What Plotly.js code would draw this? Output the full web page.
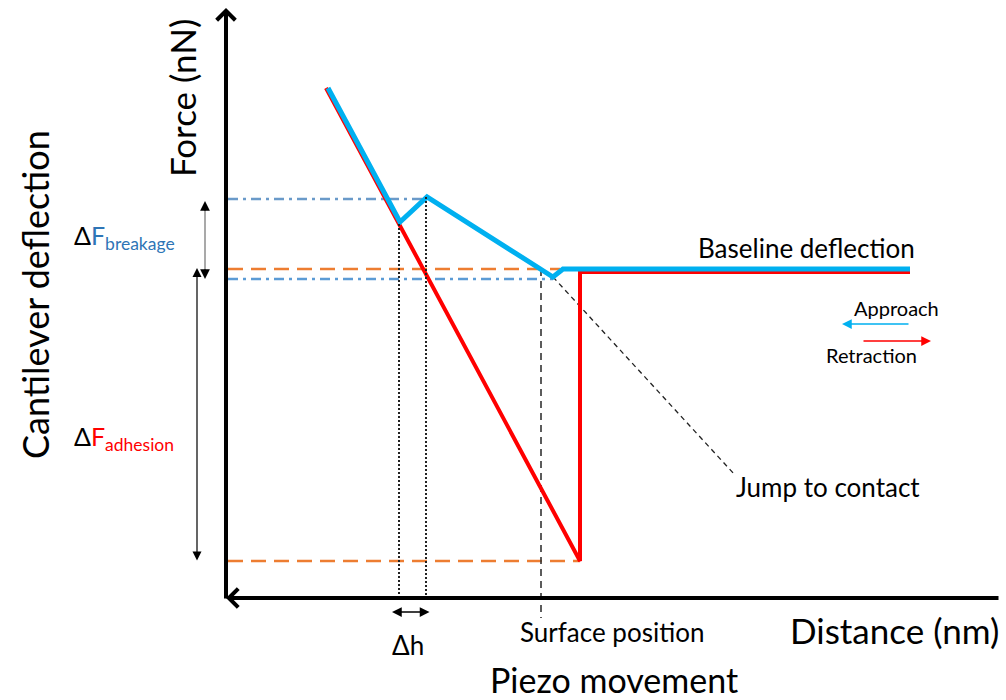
<!DOCTYPE html>
<html>
<head>
<meta charset="utf-8">
<script src="https://cdn.plot.ly/plotly-3.0.1.min.js"></script>
<style>html,body{margin:0;padding:0;background:#fff;}#chart{width:1006px;height:700px;}</style>
</head>
<body>
<div id="chart"></div>
<script>
// Schematic coordinates (in drawing units)
const retractionX = [326, 580, 580, 910];
const retractionY = [88, 561, 272, 272];
const approachX = [328, 400, 427, 541, 553, 563, 910];
const approachY = [88, 222, 197, 269, 277, 269, 269];

const baselineGuideX = [228, 560];
const baselineGuideY = [269, 269];
const adhesionGuideX = [228, 580];
const adhesionGuideY = [561, 561];
const breakTopGuideX = [228, 427];
const breakTopGuideY = [199, 199];
const breakLowGuideX = [228, 553];
const breakLowGuideY = [279, 279];
const dh1X = [399, 399];
const dh1Y = [224, 597];
const dh2X = [426, 426];
const dh2Y = [197, 597];
const surfaceX = [541, 541];
const surfaceY = [269, 618];
const jumpX = [553, 735];
const jumpY = [277, 475];

const FONT = 'Lato, "Open Sans", sans-serif';

function line(x, y, color, width, dash) {
  return {x: x, y: y, type: 'scatter', mode: 'lines', hoverinfo: 'skip',
    line: {color: color, width: width, dash: dash || 'solid'}};
}

const traces = [
  line(baselineGuideX, baselineGuideY, '#ED7D31', 2.5, '15px,8px'),
  line(adhesionGuideX, adhesionGuideY, '#ED7D31', 2.5, '15px,8px'),
  line(breakTopGuideX, breakTopGuideY, '#6A9AC9', 2.5, '10px,5px,3px,5px'),
  line(breakLowGuideX, breakLowGuideY, '#5B9BD5', 2.5, '10px,5px,3px,5px'),
  line(surfaceX, surfaceY, '#333333', 1.6, '7px,5px'),
  line(jumpX, jumpY, '#222222', 1.3, '5px,4px'),
  line(retractionX, retractionY, '#FF0000', 4),
  line(approachX, approachY, '#00B0F0', 5),
  line(dh1X, dh1Y, '#222222', 2, '2px,2px'),
  line(dh2X, dh2Y, '#222222', 2, '2px,2px'),
  line([205, 205], [208, 272], '#8C8C8C', 1.5)
];

function arrow(x, y, ax, ay, color, width, head, size, both) {
  return {x: x, y: y, ax: ax, ay: ay, xref: 'x', yref: 'y', axref: 'x', ayref: 'y',
    text: '', showarrow: true, arrowhead: head, startarrowhead: head, arrowsize: size,
    startarrowsize: size, arrowwidth: width, arrowcolor: color,
    arrowside: both ? 'end+start' : 'end', standoff: 0, startstandoff: 0};
}

function label(x, y, text, size, opts) {
  return Object.assign({x: x, y: y, xref: 'x', yref: 'y', text: text, showarrow: false,
    xanchor: 'center', yanchor: 'middle', font: {family: FONT, size: size, color: '#000'}}, opts || {});
}

const annotations = [
  arrow(226, 8, 226, 600, '#000', 4, 4, 0.9, false),
  arrow(226, 598, 1000, 598, '#000', 4, 4, 0.9, false),
  arrow(392, 612, 431, 612, '#000', 1.3, 2, 1.5, true),
  arrow(205, 201, 205, 212, '#000', 1.3, 2, 1.5, false),
  arrow(205, 279, 205, 268, '#000', 1.3, 2, 1.5, false),
  arrow(197, 268, 197, 562, '#000', 1.2, 2, 1.5, true),
  arrow(842, 324, 910, 324, '#00B0F0', 1.5, 2, 1.3, false),
  arrow(931, 341, 862, 341, '#FF0000', 1.5, 2, 1.3, false),
  label(182, 98, 'Force (nN)', 35, {textangle: -90}),
  label(35, 295, 'Cantilever deflection', 36, {textangle: -90}),
  label(894, 630, 'Distance (nm)', 35),
  label(614, 679, 'Piezo movement', 34),
  label(612, 632, 'Surface position', 26),
  label(408, 645, 'Δh', 26),
  label(828, 487, 'Jump to contact', 26),
  label(806, 248, 'Baseline deflection', 26),
  label(896, 308, 'Approach', 20),
  label(871, 355, 'Retraction', 20),
  label(72, 237, 'Δ<span style="color:#2E75B6">F<sub>breakage</sub></span>', 25, {xanchor: 'left'}),
  label(72, 438, 'Δ<span style="color:#FF0000">F<sub>adhesion</sub></span>', 25, {xanchor: 'left'})
];

const layout = {
  width: 1006, height: 700,
  margin: {l: 0, r: 0, t: 0, b: 0, pad: 0},
  paper_bgcolor: '#ffffff', plot_bgcolor: '#ffffff',
  showlegend: false,
  xaxis: {range: [0, 1006], visible: false, fixedrange: true},
  yaxis: {range: [700, 0], visible: false, fixedrange: true},
  annotations: annotations
};

Plotly.newPlot('chart', traces, layout, {staticPlot: true, displayModeBar: false});
</script>
</body>
</html>
